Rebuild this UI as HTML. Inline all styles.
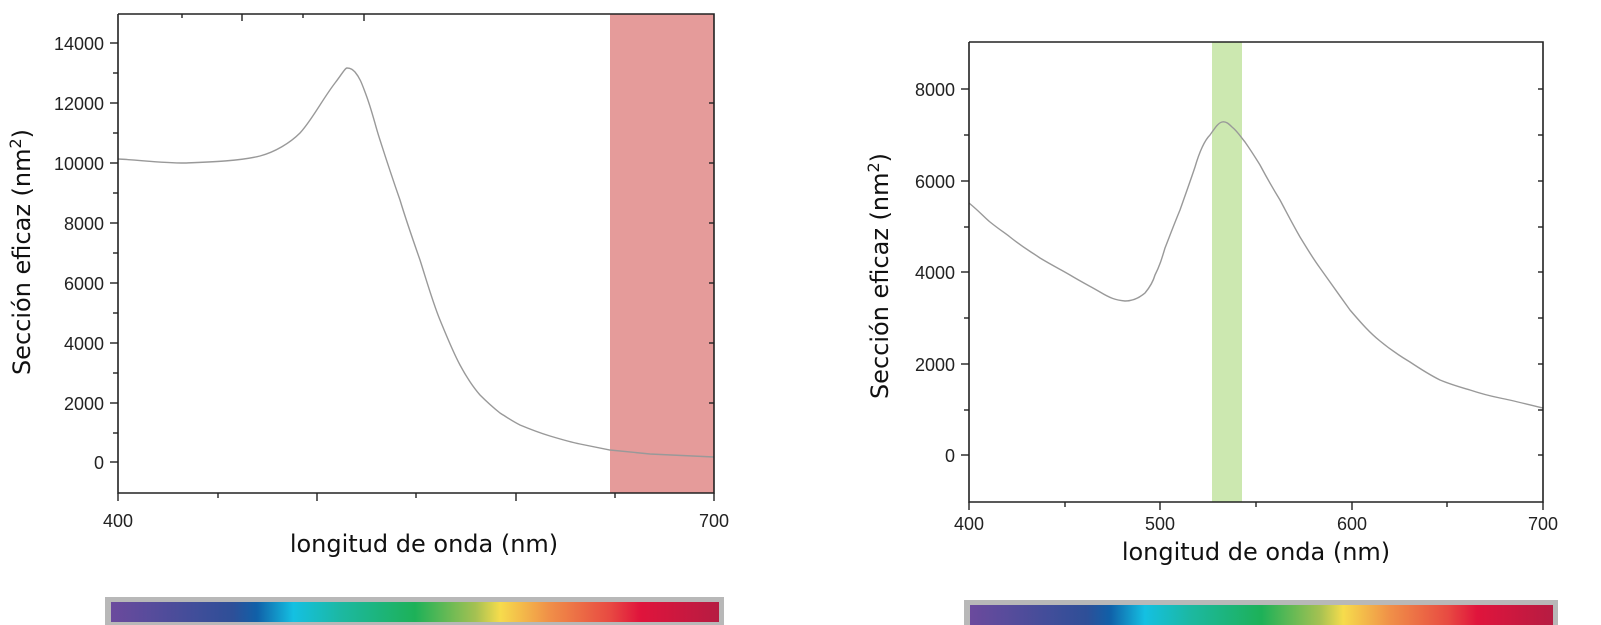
<!DOCTYPE html>
<html><head><meta charset="utf-8"><style>
html,body{margin:0;padding:0;background:#fff;}
svg{display:block;font-family:"Liberation Sans",Arial,sans-serif;}
.t{font-size:18px;fill:#222;}
.ax{stroke:#222;stroke-width:1.6;fill:none;}
.tk{stroke:#222;stroke-width:1.4;}
.c{stroke:#999;stroke-width:1.4;fill:none;}
.ti{font-family:"DejaVu Sans","Liberation Sans",sans-serif;font-size:24px;fill:#111;}
</style></head><body>
<svg width="1601" height="625" viewBox="0 0 1601 625">
<defs>
<linearGradient id="sp" x1="0" x2="1" y1="0" y2="0">
<stop offset="0" stop-color="#6b4a9d"/><stop offset="0.2" stop-color="#2e4f98"/>
<stop offset="0.24" stop-color="#1060a8"/><stop offset="0.3" stop-color="#14c0e2"/>
<stop offset="0.38" stop-color="#1cb8a0"/><stop offset="0.5" stop-color="#1db158"/>
<stop offset="0.6" stop-color="#a5c152"/><stop offset="0.64" stop-color="#f6dc4c"/>
<stop offset="0.72" stop-color="#f09048"/><stop offset="0.82" stop-color="#e84a42"/>
<stop offset="0.87" stop-color="#e0143c"/><stop offset="1" stop-color="#b61c42"/>
</linearGradient>
</defs>
<!-- LEFT CHART -->
<rect x="610" y="14" width="104" height="479" fill="#e59b9a"/>
<path class="c" d="M118,159 C140,160 160,163 185,163 C210,162 240,161 260,156 C275,152 290,143 300,133 C312,120 322,100 335,83 C342,74 345,68 347,68 C351,68 353,70 355,72 C360,78 362,84 365,92 C372,110 375,125 380,140 C388,165 393,180 400,200 C406,220 413,240 420,260 C427,282 433,303 440,320 C447,337 453,352 460,365 C467,378 473,387 480,395 C488,403 495,409 500,413 C508,418 512,421 520,425 C532,430 540,433 550,436 C560,439 570,442 580,444 C590,446 600,448 610,450 C630,452 640,453 650,454 C670,455 690,456 714,457"/>
<polyline class="ax" points="118,14 714,14 714,493 118,493 118,14"/>
<g class="tk">
<line x1="118" y1="493" x2="118" y2="501"/><line x1="218" y1="493" x2="218" y2="498"/><line x1="317" y1="493" x2="317" y2="501"/><line x1="416" y1="493" x2="416" y2="498"/><line x1="516" y1="493" x2="516" y2="501"/><line x1="615" y1="493" x2="615" y2="498"/><line x1="714" y1="493" x2="714" y2="501"/>
<line x1="182" y1="14" x2="182" y2="18"/><line x1="242" y1="14" x2="242" y2="21"/><line x1="303" y1="14" x2="303" y2="18"/><line x1="364" y1="14" x2="364" y2="21"/>
<line x1="110" y1="43" x2="118" y2="43"/><line x1="113" y1="73" x2="118" y2="73"/><line x1="110" y1="103" x2="118" y2="103"/><line x1="113" y1="133" x2="118" y2="133"/><line x1="110" y1="163" x2="118" y2="163"/><line x1="113" y1="193" x2="118" y2="193"/><line x1="110" y1="223" x2="118" y2="223"/><line x1="113" y1="253" x2="118" y2="253"/><line x1="110" y1="283" x2="118" y2="283"/><line x1="113" y1="313" x2="118" y2="313"/><line x1="110" y1="343" x2="118" y2="343"/><line x1="113" y1="373" x2="118" y2="373"/><line x1="110" y1="403" x2="118" y2="403"/><line x1="113" y1="433" x2="118" y2="433"/><line x1="110" y1="462" x2="118" y2="462"/>
<line x1="709" y1="103" x2="714" y2="103"/><line x1="709" y1="163" x2="714" y2="163"/><line x1="709" y1="223" x2="714" y2="223"/><line x1="709" y1="283" x2="714" y2="283"/><line x1="709" y1="343" x2="714" y2="343"/><line x1="709" y1="403" x2="714" y2="403"/>
</g>
<g class="t" text-anchor="end">
<text x="104" y="50">14000</text><text x="104" y="110">12000</text><text x="104" y="170">10000</text><text x="104" y="230">8000</text><text x="104" y="290">6000</text><text x="104" y="350">4000</text><text x="104" y="410">2000</text><text x="104" y="469">0</text>
</g>
<g class="t" text-anchor="middle"><text x="118" y="527">400</text><text x="714" y="527">700</text></g>
<text class="ti" font-size="25" transform="translate(30,252) rotate(-90)" text-anchor="middle">Sección eficaz (nm<tspan font-size="16" dy="-9">2</tspan><tspan dy="9">)</tspan></text>
<text class="ti" x="424" y="552" text-anchor="middle" font-size="27">longitud de onda (nm)</text>
<rect x="105" y="597" width="619" height="30" fill="#b8b8b8"/>
<rect x="111" y="602" width="608" height="20" fill="url(#sp)"/>

<!-- RIGHT CHART -->
<rect x="1212" y="42" width="30" height="460" fill="#cce8b0"/>
<path class="c" d="M969,203 C980,212 985,218 990,222 C1000,230 1005,233 1010,237 C1025,249 1030,251 1040,258 C1055,267 1060,269 1070,275 C1085,284 1090,286 1100,292 C1110,298 1115,300 1125,301 C1132,301 1138,299 1145,293 C1150,287 1153,282 1155,275 C1160,265 1162,258 1165,248 C1172,230 1175,222 1180,210 C1187,190 1190,182 1195,167 C1200,150 1205,140 1210,135 C1215,128 1218,123 1222,122 C1226,121 1229,124 1232,127 C1238,132 1240,136 1245,142 C1252,152 1255,157 1260,165 C1268,180 1272,187 1280,200 C1288,215 1292,223 1300,237 C1308,250 1312,257 1320,268 C1332,285 1340,296 1350,310 C1362,324 1370,333 1380,341 C1392,351 1400,356 1410,362 C1422,370 1430,375 1440,380 C1452,385 1460,387 1470,390 C1482,394 1490,396 1500,398 C1515,401 1530,405 1543,408"/>
<polyline class="ax" points="969,42 1543,42 1543,502 969,502 969,42"/>
<g class="tk">
<line x1="969" y1="502" x2="969" y2="510"/><line x1="1065" y1="502" x2="1065" y2="507"/><line x1="1160" y1="502" x2="1160" y2="510"/><line x1="1256" y1="502" x2="1256" y2="507"/><line x1="1352" y1="502" x2="1352" y2="510"/><line x1="1447" y1="502" x2="1447" y2="507"/><line x1="1543" y1="502" x2="1543" y2="510"/>
<line x1="961" y1="89" x2="969" y2="89"/><line x1="964" y1="135" x2="969" y2="135"/><line x1="961" y1="181" x2="969" y2="181"/><line x1="964" y1="227" x2="969" y2="227"/><line x1="961" y1="272" x2="969" y2="272"/><line x1="964" y1="318" x2="969" y2="318"/><line x1="961" y1="364" x2="969" y2="364"/><line x1="964" y1="410" x2="969" y2="410"/><line x1="961" y1="455" x2="969" y2="455"/>
<line x1="1538" y1="89" x2="1543" y2="89"/><line x1="1538" y1="135" x2="1543" y2="135"/><line x1="1538" y1="181" x2="1543" y2="181"/><line x1="1538" y1="227" x2="1543" y2="227"/><line x1="1538" y1="272" x2="1543" y2="272"/><line x1="1538" y1="318" x2="1543" y2="318"/><line x1="1538" y1="364" x2="1543" y2="364"/><line x1="1538" y1="410" x2="1543" y2="410"/><line x1="1538" y1="455" x2="1543" y2="455"/>
</g>
<g class="t" text-anchor="end">
<text x="955" y="96">8000</text><text x="955" y="188">6000</text><text x="955" y="279">4000</text><text x="955" y="371">2000</text><text x="955" y="462">0</text>
</g>
<g class="t" text-anchor="middle"><text x="969" y="530">400</text><text x="1160" y="530">500</text><text x="1352" y="530">600</text><text x="1543" y="530">700</text></g>
<text class="ti" font-size="25" transform="translate(888,276) rotate(-90)" text-anchor="middle">Sección eficaz (nm<tspan font-size="16" dy="-9">2</tspan><tspan dy="9">)</tspan></text>
<text class="ti" x="1256" y="560" text-anchor="middle" font-size="27">longitud de onda (nm)</text>
<rect x="964" y="600" width="594" height="31" fill="#b8b8b8"/>
<rect x="970" y="605" width="583" height="21" fill="url(#sp)"/>
</svg>
</body></html>
